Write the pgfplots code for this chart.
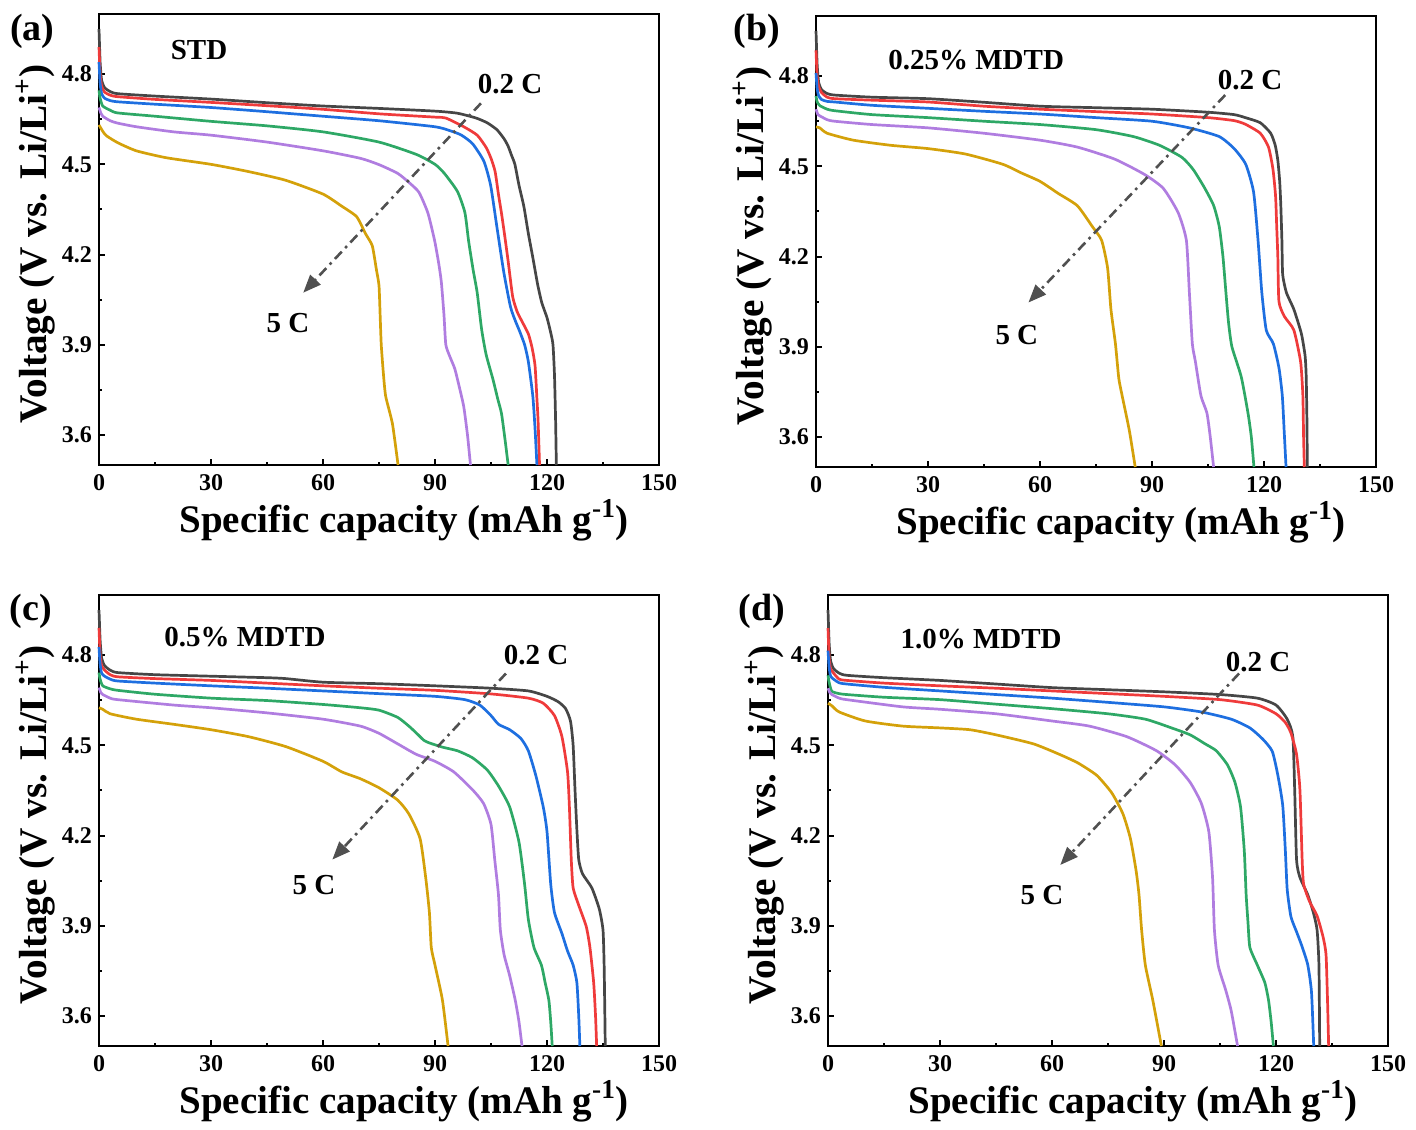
\documentclass[border=0pt]{standalone}
\usepackage{pgfplots}
\pgfplotsset{compat=1.18}
\usepackage{fontspec}
\setmainfont{Liberation Serif}
\usetikzlibrary{arrows.meta}
\definecolor{cK}{HTML}{464646}
\definecolor{cR}{HTML}{EF3B3B}
\definecolor{cB}{HTML}{1E6FE0}
\definecolor{cG}{HTML}{2EA866}
\definecolor{cP}{HTML}{B07DE0}
\definecolor{cY}{HTML}{D4A10A}
\definecolor{cA}{HTML}{505050}
\pgfplotsset{
  panel/.style={
    width=280pt, height=225.5pt, scale only axis,
    xmin=0, xmax=150, ymin=3.5, ymax=5.0,
    xtick={0,30,...,150}, ytick={3.6,3.9,4.2,4.5,4.8},
    minor x tick num=1, minor y tick num=1,
    tick align=inside, tick pos=left,
    major tick length=3pt, minor tick length=1.6pt,
    every tick/.style={black, line width=1pt},
    axis line style={line width=1.3pt},
    clip=false,
    /pgf/number format/assume math mode=true,
    tick label style={font=\bfseries\fontsize{12}{13}\selectfont},
    yticklabel style={/pgf/number format/.cd, fixed, fixed zerofill, precision=1},
    xticklabel style={yshift=-1pt},
    xlabel={Specific capacity (mAh g\textsuperscript{-1})},
    ylabel={Voltage (V vs. Li/Li\textsuperscript{+})},
    xlabel style={at={(axis description cs:0.545,-0.122)}, anchor=center, font=\bfseries\fontsize{19.5}{20}\selectfont},
    ylabel style={at={(axis description cs:-0.114,0.49)}, anchor=center, font=\bfseries\fontsize{19.6}{20}\selectfont},
    every axis plot/.append style={line width=1.35pt, line join=round, no markers, smooth, tension=0.35},
  },
}
\tikzset{
  lab/.style={font=\bfseries\fontsize{14.5}{15}\selectfont},
  plab/.style={font=\bfseries\fontsize{19}{20}\selectfont},
  arr/.style={cA, line width=1.3pt, dash pattern=on 5pt off 2.5pt on 1.3pt off 2.5pt, -{Triangle[length=9pt,width=7pt]}},
}
\begin{document}
\begin{tikzpicture}
\path[use as bounding box] (0,0) rectangle (708pt,-564.5pt);
% ---------------- (a)
\begin{axis}[panel, at={(49.5pt,-232.5pt)}, anchor=south west]
\addplot[cK] coordinates {(0,4.95)(0.3,4.84)(0.7,4.78)(1.5,4.755)(3,4.742)(5,4.735)(15,4.727)(30,4.717)(45,4.705)(60,4.694)(75,4.686)(90,4.677)(96,4.670)(101,4.654)(104,4.638)(106.6,4.615)(108.5,4.585)(109.6,4.56)(110.5,4.53)(111.4,4.50)(112.5,4.43)(113.8,4.36)(115,4.27)(116.2,4.19)(117.5,4.10)(118.6,4.04)(120,3.99)(121,3.94)(121.6,3.90)(122,3.80)(122.3,3.65)(122.5,3.5)};
\addplot[cR] coordinates {(0,4.89)(0.3,4.80)(0.7,4.76)(1.5,4.74)(3,4.73)(5,4.725)(15,4.716)(30,4.706)(45,4.695)(60,4.683)(75,4.668)(90,4.657)(92.9,4.654)(97.7,4.625)(101.3,4.597)(103.7,4.556)(105,4.52)(106.1,4.476)(107,4.40)(107.8,4.338)(108.7,4.26)(109.6,4.177)(110.8,4.06)(112,4.01)(113.2,3.98)(115,3.936)(116,3.89)(116.8,3.83)(117.3,3.72)(117.6,3.65)(118,3.5)};
\addplot[cB] coordinates {(0,4.84)(0.3,4.77)(0.7,4.735)(1.5,4.72)(3,4.712)(5,4.708)(15,4.70)(30,4.689)(45,4.675)(60,4.66)(75,4.645)(90,4.625)(94,4.612)(97.1,4.597)(100.1,4.568)(103.1,4.51)(104.9,4.43)(106.6,4.29)(108.4,4.143)(110.2,4.027)(111.5,3.98)(112.6,3.947)(114,3.90)(115,3.844)(116.2,3.729)(116.8,3.62)(117.3,3.5)};
\addplot[cG] coordinates {(0,4.746)(0.3,4.72)(1,4.694)(3,4.68)(5,4.671)(15,4.66)(30,4.643)(45,4.628)(60,4.608)(75,4.574)(85,4.533)(90,4.50)(92.5,4.47)(96,4.41)(98,4.34)(99,4.245)(100.2,4.15)(101.3,4.073)(102.5,3.95)(103.7,3.867)(105.5,3.786)(106.8,3.72)(107.8,3.672)(108.7,3.59)(109.6,3.5)};
\addplot[cP] coordinates {(0,4.689)(0.5,4.67)(1,4.66)(3,4.645)(5,4.637)(10,4.625)(20,4.608)(30,4.597)(45,4.574)(60,4.545)(70,4.52)(75,4.499)(80,4.47)(83,4.44)(85.7,4.407)(88.1,4.338)(89.9,4.246)(91,4.17)(91.7,4.108)(92.4,4.0)(92.9,3.90)(94,3.86)(95.3,3.82)(96.5,3.76)(97.7,3.694)(98.7,3.60)(99.5,3.5)};
\addplot[cY] coordinates {(0,4.631)(1,4.61)(2,4.595)(5,4.572)(10,4.545)(18,4.522)(30,4.50)(40,4.476)(50,4.447)(60,4.401)(65,4.361)(69,4.326)(71.4,4.269)(73.2,4.229)(74.3,4.15)(75,4.097)(75.3,4.0)(75.6,3.90)(76.2,3.80)(76.8,3.728)(78.6,3.637)(80.1,3.5)};
\draw[arr] (axis cs:102.3,4.703) -- (axis cs:54.7,4.073);
\node[lab] at (axis cs:26.8,4.88) {STD};
\node[lab] at (axis cs:110.1,4.767) {0.2 C};
\node[lab] at (axis cs:50.6,3.973) {5 C};
\node[plab] at (axis cs:-17.9,4.943) {(a)};
\end{axis}
% ---------------- (b)
\begin{axis}[panel, at={(408pt,-233.5pt)}, anchor=south west]
\addplot[cK] coordinates {(0,4.95)(0.3,4.84)(0.7,4.78)(1.5,4.755)(3,4.742)(5,4.737)(15,4.73)(30,4.725)(45,4.713)(60,4.70)(75,4.695)(90,4.69)(105,4.68)(112,4.672)(115,4.662)(119,4.645)(121.8,4.61)(123,4.57)(123.7,4.52)(124.2,4.45)(124.5,4.37)(124.8,4.25)(125,4.14)(126,4.08)(128,4.024)(130,3.944)(131,3.87)(131.3,3.80)(131.5,3.65)(131.6,3.5)};
\addplot[cR] coordinates {(0,4.886)(0.3,4.80)(0.7,4.765)(1.5,4.745)(3,4.73)(5,4.725)(15,4.72)(30,4.714)(45,4.70)(60,4.69)(75,4.682)(90,4.674)(105,4.662)(112,4.652)(115,4.64)(119,4.61)(121.2,4.564)(122.4,4.49)(123.1,4.40)(123.4,4.30)(123.7,4.2)(124,4.05)(125.5,4.0)(128,3.955)(129.8,3.85)(130.4,3.74)(130.6,3.6)(130.8,3.5)};
\addplot[cB] coordinates {(0,4.81)(0.3,4.76)(0.7,4.735)(1.5,4.722)(3,4.716)(5,4.714)(15,4.703)(30,4.693)(45,4.683)(60,4.674)(75,4.662)(90,4.65)(100,4.628)(108,4.599)(112,4.559)(115.1,4.507)(117.2,4.415)(118.4,4.254)(119.4,4.082)(120.6,3.955)(122.5,3.91)(124,3.83)(124.9,3.737)(125.4,3.62)(125.9,3.5)};
\addplot[cG] coordinates {(0,4.734)(0.3,4.715)(1,4.702)(3,4.69)(5,4.685)(15,4.672)(30,4.662)(45,4.65)(60,4.639)(75,4.622)(85,4.599)(92,4.57)(98,4.53)(101,4.49)(104,4.43)(106.5,4.37)(108,4.3)(109,4.2)(109.8,4.08)(110.5,3.98)(111.4,3.90)(113.9,3.80)(115.7,3.68)(116.6,3.6)(117.3,3.5)};
\addplot[cP] coordinates {(0,4.69)(0.5,4.672)(1,4.668)(3,4.655)(5,4.65)(15,4.639)(30,4.628)(45,4.61)(60,4.587)(70,4.564)(80,4.524)(88,4.473)(93,4.427)(97,4.346)(99.2,4.254)(100,4.082)(100.8,3.91)(101.6,3.852)(103.1,3.737)(104.7,3.68)(105.6,3.6)(106.5,3.5)};
\addplot[cY] coordinates {(0,4.631)(1,4.628)(3,4.61)(10,4.587)(20,4.57)(30,4.559)(40,4.541)(50,4.507)(55,4.478)(60,4.45)(65,4.409)(70,4.369)(74,4.30)(76.5,4.254)(78.1,4.162)(79,4.024)(80.2,3.91)(81.1,3.795)(82,3.737)(83.9,3.623)(85.5,3.5)};
\draw[arr] (axis cs:109.6,4.737) -- (axis cs:56.9,4.047);
\node[lab] at (axis cs:42.9,4.853) {0.25\% MDTD};
\node[lab] at (axis cs:116.3,4.787) {0.2 C};
\node[lab] at (axis cs:53.8,3.94) {5 C};
\node[plab] at (axis cs:-15.8,4.95) {(b)};
\end{axis}
% ---------------- (c)
\begin{axis}[panel, at={(49.5pt,-523pt)}, anchor=south west]
\addplot[cK] coordinates {(0,4.95)(0.3,4.85)(0.7,4.79)(1.5,4.765)(3,4.75)(5,4.742)(15,4.735)(30,4.73)(45,4.725)(50,4.722)(60,4.71)(75,4.705)(90,4.698)(105,4.69)(115,4.681)(120,4.663)(123,4.645)(125,4.622)(126.3,4.58)(127,4.5)(127.5,4.353)(128,4.22)(128.5,4.12)(129.5,4.073)(132,4.026)(134,3.956)(135,3.886)(135.3,3.77)(135.5,3.6)(135.6,3.5)};
\addplot[cR] coordinates {(0,4.891)(0.3,4.80)(0.7,4.765)(1.5,4.75)(3,4.735)(5,4.728)(15,4.722)(30,4.716)(45,4.707)(60,4.698)(75,4.69)(90,4.683)(105,4.671)(115,4.657)(119,4.64)(122,4.599)(124,4.529)(125.5,4.412)(126,4.295)(126.5,4.12)(127,4.026)(128.5,3.968)(130.5,3.898)(131.5,3.828)(132.5,3.711)(133,3.6)(133.3,3.5)};
\addplot[cB] coordinates {(0,4.827)(0.3,4.77)(0.7,4.74)(1.5,4.73)(3,4.72)(5,4.714)(15,4.707)(30,4.698)(45,4.69)(60,4.681)(75,4.672)(90,4.663)(98,4.652)(102,4.634)(105,4.599)(107,4.57)(110,4.552)(113,4.523)(115,4.482)(117,4.40)(119,4.295)(120,4.213)(121,4.038)(122,3.944)(124,3.874)(125.5,3.816)(127,3.769)(128,3.711)(128.5,3.6)(128.8,3.5)};
\addplot[cG] coordinates {(0,4.742)(0.3,4.72)(1,4.698)(3,4.688)(5,4.683)(15,4.67)(30,4.657)(45,4.649)(60,4.636)(70,4.625)(75,4.617)(80,4.593)(83,4.564)(85,4.541)(87,4.517)(88.5,4.508)(92,4.494)(96,4.482)(100,4.459)(104,4.418)(107,4.365)(110,4.295)(112.5,4.178)(114,4.038)(115,3.921)(116.5,3.828)(118.5,3.769)(119.5,3.711)(120.5,3.652)(121,3.58)(121.4,3.5)};
\addplot[cP] coordinates {(0,4.692)(0.5,4.675)(1,4.669)(3,4.657)(5,4.652)(20,4.634)(30,4.625)(45,4.608)(60,4.587)(70,4.564)(75,4.54)(80,4.505)(85,4.47)(90,4.447)(95,4.412)(100,4.353)(103,4.307)(105,4.237)(106,4.12)(107,4.003)(107.5,3.886)(108.5,3.804)(110,3.734)(111.5,3.652)(112.5,3.58)(113.3,3.5)};
\addplot[cY] coordinates {(0,4.625)(1,4.62)(3,4.605)(10,4.587)(20,4.57)(30,4.552)(40,4.529)(50,4.496)(60,4.447)(65,4.412)(70,4.389)(75,4.359)(80,4.318)(83,4.272)(86,4.19)(87.5,4.061)(88.5,3.944)(89,3.828)(90,3.769)(92,3.652)(93.5,3.5)};
\draw[arr] (axis cs:109.0,4.739) -- (axis cs:62.5,4.12);
\node[lab] at (axis cs:39.1,4.86) {0.5\% MDTD};
\node[lab] at (axis cs:117.1,4.80) {0.2 C};
\node[lab] at (axis cs:57.6,4.037) {5 C};
\node[plab] at (axis cs:-18.2,4.947) {(c)};
\end{axis}
% ---------------- (d)
\begin{axis}[panel, at={(414pt,-523pt)}, anchor=south west]
\addplot[cK] coordinates {(0,4.95)(0.3,4.84)(0.7,4.78)(1.5,4.755)(3,4.74)(5,4.733)(15,4.725)(30,4.716)(45,4.704)(60,4.692)(75,4.685)(90,4.678)(105,4.669)(115,4.657)(120,4.634)(123,4.587)(124.5,4.529)(125,4.353)(125.5,4.12)(126.4,4.061)(128.5,4.003)(130,3.944)(131,3.886)(131.5,3.769)(131.7,3.5)};
\addplot[cR] coordinates {(0,4.89)(0.3,4.79)(0.7,4.755)(1.5,4.74)(3,4.72)(5,4.716)(15,4.707)(30,4.698)(45,4.69)(60,4.681)(75,4.672)(90,4.663)(105,4.652)(115,4.634)(120,4.605)(122.5,4.576)(124,4.541)(125.5,4.47)(126.4,4.353)(127,4.12)(127.4,4.038)(129,3.98)(131,3.933)(132.6,3.863)(133.4,3.804)(133.8,3.65)(134.1,3.5)};
\addplot[cB] coordinates {(0,4.815)(0.3,4.76)(0.7,4.73)(1.5,4.72)(3,4.708)(5,4.704)(15,4.693)(30,4.681)(45,4.669)(60,4.657)(75,4.643)(90,4.628)(100,4.611)(108,4.587)(113,4.558)(116.5,4.52)(119,4.48)(120.5,4.40)(121.8,4.30)(122.5,4.15)(123,4.02)(124,3.93)(125.5,3.88)(127,3.83)(128.5,3.77)(129.5,3.68)(130.1,3.5)};
\addplot[cG] coordinates {(0,4.733)(0.3,4.71)(1,4.68)(3,4.672)(5,4.669)(15,4.66)(30,4.652)(45,4.637)(60,4.622)(75,4.605)(85,4.587)(92,4.558)(97,4.535)(101,4.505)(104,4.482)(107,4.435)(109,4.377)(110.5,4.295)(111.5,4.15)(112,4.003)(112.5,3.91)(113,3.828)(115,3.769)(117,3.711)(118,3.652)(118.7,3.58)(119.3,3.5)};
\addplot[cP] coordinates {(0,4.69)(0.5,4.675)(1,4.669)(3,4.657)(5,4.652)(20,4.628)(30,4.62)(45,4.605)(60,4.581)(70,4.564)(80,4.529)(88,4.482)(93,4.435)(97,4.377)(100,4.307)(102,4.213)(103,4.061)(103.5,3.886)(104.5,3.769)(106.5,3.687)(108,3.617)(109.7,3.5)};
\addplot[cY] coordinates {(0,4.64)(1,4.632)(3,4.611)(10,4.581)(20,4.564)(30,4.558)(38,4.552)(45,4.535)(55,4.505)(62,4.47)(67,4.441)(72,4.40)(76,4.342)(79,4.272)(81,4.19)(82.5,4.085)(83.3,4.003)(84,3.886)(85,3.769)(87,3.652)(89.3,3.5)};
\draw[arr] (axis cs:110.1,4.739) -- (axis cs:62.2,4.102);
\node[lab] at (axis cs:41.0,4.853) {1.0\% MDTD};
\node[lab] at (axis cs:115.2,4.777) {0.2 C};
\node[lab] at (axis cs:57.3,4.003) {5 C};
\node[plab] at (axis cs:-17.7,4.947) {(d)};
\end{axis}
\end{tikzpicture}
\end{document}
